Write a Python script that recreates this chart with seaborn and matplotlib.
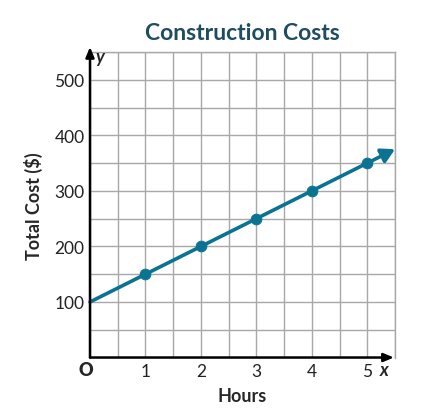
import numpy as np
import pandas as pd
import matplotlib
matplotlib.use("Agg")
import matplotlib.pyplot as plt
import seaborn as sns

# ------------------ Data ------------------
hours = [1, 2, 3, 4, 5]
cost = [150, 200, 250, 300, 350]
line_hours = [0, 5.5]
line_cost = [100, 375]
x_ticks = [1, 2, 3, 4, 5]
y_ticks = [100, 200, 300, 400, 500]

teal = "#0b7392"
title_col = "#1d4d5e"

sns.set_style("white")
plt.rcParams["font.family"] = ["Lato", "DejaVu Sans"]

fig = plt.figure(figsize=(4.3, 4.14), dpi=100)
ax = fig.add_axes([0.2093, 0.134, 0.7093, 0.738])

# grid
ax.set_xlim(0, 5.5)
ax.set_ylim(0, 550)
ax.set_xticks(np.arange(0, 5.51, 0.5), minor=True)
ax.set_yticks(np.arange(0, 551, 50), minor=True)
ax.grid(which="both", color="#a8a8a8", linewidth=1.0)
ax.set_axisbelow(True)
for s in ["top", "right"]:
    ax.spines[s].set_color("#a8a8a8")
    ax.spines[s].set_linewidth(1.0)
ax.spines["left"].set_visible(False)
ax.spines["bottom"].set_visible(False)

# line + points
df = pd.DataFrame({"Hours": hours, "Cost": cost})
ax.annotate("", xy=(line_hours[1], line_cost[1]), xytext=(line_hours[0], line_cost[0]),
            arrowprops=dict(arrowstyle="-|>,head_length=0.8,head_width=0.45",
                            color=teal, lw=2.6, shrinkA=0, shrinkB=0),
            annotation_clip=False, zorder=4)
sns.scatterplot(data=df, x="Hours", y="Cost", ax=ax, color=teal, s=60,
                edgecolor=teal, zorder=5, clip_on=False)

# axes arrows
ax.annotate("", xy=(0, 559), xytext=(0, 0),
            arrowprops=dict(arrowstyle="-|>,head_length=0.6,head_width=0.25",
                            color="black", lw=1.8, shrinkA=0, shrinkB=0),
            annotation_clip=False, zorder=6)
ax.annotate("", xy=(5.48, 0), xytext=(0, 0),
            arrowprops=dict(arrowstyle="-|>,head_length=0.6,head_width=0.25",
                            color="black", lw=1.8, shrinkA=0, shrinkB=0),
            annotation_clip=False, zorder=6)

ax.set_xticks(x_ticks)
ax.set_yticks(y_ticks)
ax.set_xticklabels([str(v) for v in x_ticks], fontsize=12.5, color="#222222")
ax.set_yticklabels([str(v) for v in y_ticks], fontsize=12.5, color="#222222")
ax.tick_params(axis="both", which="both", length=0, pad=4)

ax.text(-0.08, -22, "O", fontsize=13, fontweight="heavy", ha="center", va="center")
ax.text(5.3, -22, "x", fontsize=13, fontweight="bold", style="italic", ha="center", va="center")
ax.text(0.17, 542, "y", fontsize=13, fontweight="bold", style="italic", ha="center", va="center")

ax.set_xlabel("Hours", fontsize=13, fontweight="bold", labelpad=6)
ax.set_ylabel("Total Cost ($)", fontsize=13, fontweight="bold")
ax.set_title("Construction Costs", fontsize=16.5, fontweight="bold", color=title_col, pad=9)

# put the y label where the reference has it
ax.yaxis.set_label_coords(-0.155, 0.5)

fig.savefig("out.png", dpi=100)
